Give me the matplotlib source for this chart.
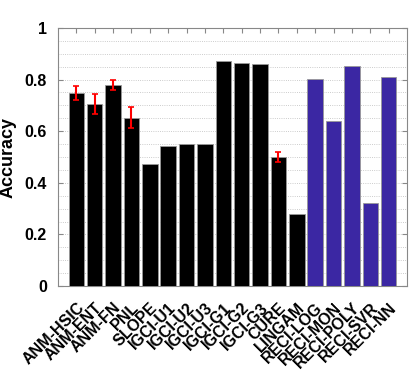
import matplotlib
matplotlib.use('Agg')
import matplotlib.pyplot as plt
import matplotlib.transforms as mtransforms
import numpy as np

methods = ['ANM-HSIC', 'ANM-ENT', 'ANM-FN', 'PNL', 'SLOPE', 'IGCI-U1', 'IGCI-U2',
           'IGCI-U3', 'IGCI-G1', 'IGCI-G2', 'IGCI-G3', 'CURE', 'LINGAM',
           'RECI-LOG', 'RECI-MON', 'RECI-POLY', 'RECI-SVR', 'RECI-NN']
accuracy = [0.747, 0.705, 0.779, 0.652, 0.471, 0.541, 0.551, 0.551, 0.872, 0.863,
            0.862, 0.501, 0.281, 0.802, 0.641, 0.852, 0.321, 0.811]
errors = [0.027, 0.039, 0.02, 0.041, 0, 0, 0, 0, 0, 0, 0, 0.02, 0, 0, 0, 0, 0, 0]
colors = ['black'] * 13 + ['#3b27a3'] * 5

plt.rcParams['font.family'] = ['Liberation Sans', 'DejaVu Sans']
plt.rcParams['font.weight'] = 'bold'

fig = plt.figure(figsize=(4.15, 3.70), dpi=100)
ax = fig.add_axes([58 / 415, 1 - 286 / 370, 349 / 415, 258 / 370])

x = np.arange(1, len(methods) + 1)
ax.bar(x, accuracy, width=0.84, color=colors, edgecolor='#999999', linewidth=0.6, zorder=3)
idx = [i for i, e in enumerate(errors) if e > 0]
ax.errorbar(x[idx], [accuracy[i] for i in idx], yerr=[errors[i] for i in idx],
            fmt='none', ecolor='red', elinewidth=1.5, capsize=2.5, capthick=1.2, zorder=4)

ax.set_xlim(0, 19)
ax.set_ylim(0, 1)
ax.set_yticks([0, 0.2, 0.4, 0.6, 0.8, 1])
ax.set_yticklabels(['0', '0.2', '0.4', '0.6', '0.8', '1'], fontsize=11.5, fontweight='bold')
ax.set_yticks(np.arange(0.05, 1.0, 0.05), minor=True)
ax.grid(True, which='both', axis='y', linestyle=':', color='#bbbbbb', linewidth=0.6, zorder=0)
ax.set_xticks(x)
ax.set_xticklabels(methods, rotation=45, ha='right', rotation_mode='anchor',
                   fontsize=11.5, fontweight='bold')
# nudge x labels right so they sit below-right of each tick like the original
shift = mtransforms.ScaledTranslation(6 / 72, 0, fig.dpi_scale_trans)
for lbl in ax.get_xticklabels():
    lbl.set_transform(lbl.get_transform() + shift)
ax.set_ylabel('Accuracy', fontsize=13, fontweight='bold', labelpad=6)
ax.tick_params(which='both', direction='in', top=True, right=True, color='#888888')
ax.tick_params(which='minor', length=0)
ax.tick_params(axis='x', pad=10)
ax.tick_params(axis='y', pad=8)
for s in ax.spines.values():
    s.set_color('#888888')
    s.set_linewidth(0.8)

fig.savefig('out.png', dpi=100)
